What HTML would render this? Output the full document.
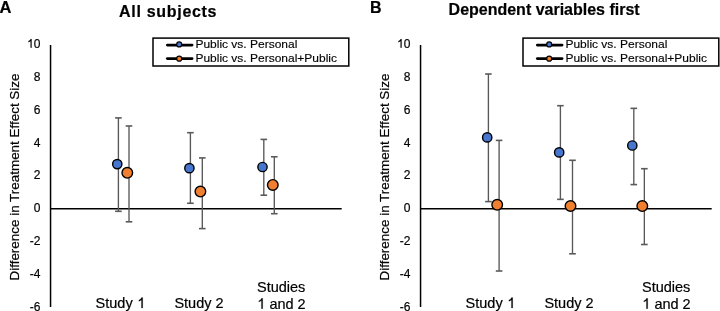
<!DOCTYPE html>
<html><head><meta charset="utf-8"><style>
html,body{margin:0;padding:0;background:#fff;width:720px;height:311px;overflow:hidden}
svg{display:block;will-change:transform}
text{font-family:"Liberation Sans",sans-serif;fill:#000;stroke:#000;stroke-width:0.2}
.b{font-weight:bold;font-size:16px}
.yt{font-size:12.5px}
.tk{font-size:12px}
.xl{font-size:14.5px;white-space:pre}
.one{fill:#000;stroke:#000;stroke-width:30}
.lt{font-size:12px;stroke-width:0.15}
.ax{stroke:#000;stroke-width:1.5}
.ax0{stroke:#000;stroke-width:1.4}
.eb{stroke:#585858;stroke-width:1.35}
.ec{stroke:#5a5a5a;stroke-width:1.6}
.mk{stroke:#000;stroke-width:1.4}
.lg{fill:none;stroke:#000;stroke-width:1.5}
.ll{stroke:#000;stroke-width:2.7;stroke-linecap:round}
.lm{stroke:#000;stroke-width:1.2}
</style></head><body>
<svg width="720" height="311" viewBox="0 0 720 311">
<text x="-0.4" y="12.9" class="b" style="font-size:16.5px">A</text>
<text x="119.0" y="16.5" class="b" textLength="97.5" lengthAdjust="spacing">All subjects</text>
<text transform="translate(19.1 177.0) rotate(-90)" text-anchor="middle" class="yt" textLength="207" lengthAdjust="spacingAndGlyphs">Difference in Treatment Effect Size</text>
<text x="40.5" y="47.7" text-anchor="end" class="tk">0</text>
<path transform="translate(27.15 47.70) scale(0.00586 -0.00586)" class="one" d="M763 0L583 0L583 1147Q450 1030 223 950L223 1124Q400 1210 530 1350Q590 1420 606 1466L763 1466Z"/>
<text x="40.5" y="80.6" text-anchor="end" class="tk">8</text>
<text x="40.5" y="113.6" text-anchor="end" class="tk">6</text>
<text x="40.5" y="146.5" text-anchor="end" class="tk">4</text>
<text x="40.5" y="179.4" text-anchor="end" class="tk">2</text>
<text x="40.5" y="212.4" text-anchor="end" class="tk">0</text>
<text x="40.5" y="245.3" text-anchor="end" class="tk">-2</text>
<text x="40.5" y="278.2" text-anchor="end" class="tk">-4</text>
<text x="40.5" y="311.1" text-anchor="end" class="tk">-6</text>
<line x1="50.55" y1="45.0" x2="50.55" y2="307" class="ax"/>
<line x1="50.55" y1="208.75" x2="341.7" y2="208.75" class="ax0"/>
<text x="370.0" y="12.7" class="b" style="font-size:16px">B</text>
<text x="448.6" y="14.9" class="b" textLength="191" lengthAdjust="spacing">Dependent variables first</text>
<text transform="translate(389.1 177.0) rotate(-90)" text-anchor="middle" class="yt" textLength="207" lengthAdjust="spacingAndGlyphs">Difference in Treatment Effect Size</text>
<text x="410.5" y="47.7" text-anchor="end" class="tk">0</text>
<path transform="translate(397.15 47.70) scale(0.00586 -0.00586)" class="one" d="M763 0L583 0L583 1147Q450 1030 223 950L223 1124Q400 1210 530 1350Q590 1420 606 1466L763 1466Z"/>
<text x="410.5" y="80.6" text-anchor="end" class="tk">8</text>
<text x="410.5" y="113.6" text-anchor="end" class="tk">6</text>
<text x="410.5" y="146.5" text-anchor="end" class="tk">4</text>
<text x="410.5" y="179.4" text-anchor="end" class="tk">2</text>
<text x="410.5" y="212.4" text-anchor="end" class="tk">0</text>
<text x="410.5" y="245.3" text-anchor="end" class="tk">-2</text>
<text x="410.5" y="278.2" text-anchor="end" class="tk">-4</text>
<text x="410.5" y="311.1" text-anchor="end" class="tk">-6</text>
<line x1="420.55" y1="45.0" x2="420.55" y2="307" class="ax"/>
<line x1="420.55" y1="208.75" x2="711.7" y2="208.75" class="ax0"/>
<text x="95.6" y="308.0" class="xl">Study </text>
<path transform="translate(137.31 308.00) scale(0.00708 -0.00708)" class="one" d="M763 0L583 0L583 1147Q450 1030 223 950L223 1124Q400 1210 530 1350Q590 1420 606 1466L763 1466Z"/>
<text x="174.4" y="308.0" class="xl">Study 2</text>
<text x="257.0" y="292.0" class="xl">Studies</text>
<path transform="translate(257.30 308.70) scale(0.00708 -0.00708)" class="one" d="M763 0L583 0L583 1147Q450 1030 223 950L223 1124Q400 1210 530 1350Q590 1420 606 1466L763 1466Z"/>
<text x="265.363359375" y="308.7" class="xl"> and 2</text>
<text x="465.6" y="308.0" class="xl">Study </text>
<path transform="translate(507.31 308.00) scale(0.00708 -0.00708)" class="one" d="M763 0L583 0L583 1147Q450 1030 223 950L223 1124Q400 1210 530 1350Q590 1420 606 1466L763 1466Z"/>
<text x="544.4" y="308.0" class="xl">Study 2</text>
<text x="642.0" y="292.0" class="xl">Studies</text>
<path transform="translate(642.30 308.70) scale(0.00708 -0.00708)" class="one" d="M763 0L583 0L583 1147Q450 1030 223 950L223 1124Q400 1210 530 1350Q590 1420 606 1466L763 1466Z"/>
<text x="650.363359375" y="308.7" class="xl"> and 2</text>
<line x1="118.4" y1="117.9" x2="118.4" y2="211.3" class="eb"/>
<line x1="115.10000000000001" y1="117.9" x2="121.7" y2="117.9" class="ec"/>
<line x1="115.10000000000001" y1="211.3" x2="121.7" y2="211.3" class="ec"/>
<line x1="129.0" y1="126.0" x2="129.0" y2="221.8" class="eb"/>
<line x1="125.7" y1="126.0" x2="132.3" y2="126.0" class="ec"/>
<line x1="125.7" y1="221.8" x2="132.3" y2="221.8" class="ec"/>
<line x1="190.4" y1="132.7" x2="190.4" y2="203.25" class="eb"/>
<line x1="187.1" y1="132.7" x2="193.70000000000002" y2="132.7" class="ec"/>
<line x1="187.1" y1="203.25" x2="193.70000000000002" y2="203.25" class="ec"/>
<line x1="202.3" y1="157.9" x2="202.3" y2="228.6" class="eb"/>
<line x1="199.0" y1="157.9" x2="205.60000000000002" y2="157.9" class="ec"/>
<line x1="199.0" y1="228.6" x2="205.60000000000002" y2="228.6" class="ec"/>
<line x1="263.8" y1="139.4" x2="263.8" y2="195.2" class="eb"/>
<line x1="260.5" y1="139.4" x2="267.1" y2="139.4" class="ec"/>
<line x1="260.5" y1="195.2" x2="267.1" y2="195.2" class="ec"/>
<line x1="274.3" y1="156.8" x2="274.3" y2="213.7" class="eb"/>
<line x1="271.0" y1="156.8" x2="277.6" y2="156.8" class="ec"/>
<line x1="271.0" y1="213.7" x2="277.6" y2="213.7" class="ec"/>
<circle cx="117.25" cy="164.1" r="4.65" fill="#4676CE" class="mk"/>
<circle cx="127.3" cy="172.8" r="5.3" fill="#F07F30" class="mk"/>
<circle cx="189.4" cy="168.15" r="4.65" fill="#4676CE" class="mk"/>
<circle cx="200.4" cy="191.55" r="5.3" fill="#F07F30" class="mk"/>
<circle cx="262.5" cy="167.0" r="4.65" fill="#4676CE" class="mk"/>
<circle cx="272.8" cy="184.9" r="5.3" fill="#F07F30" class="mk"/>
<line x1="488.4" y1="74.0" x2="488.4" y2="201.6" class="eb"/>
<line x1="485.09999999999997" y1="74.0" x2="491.7" y2="74.0" class="ec"/>
<line x1="485.09999999999997" y1="201.6" x2="491.7" y2="201.6" class="ec"/>
<line x1="499.1" y1="140.4" x2="499.1" y2="271.0" class="eb"/>
<line x1="495.8" y1="140.4" x2="502.40000000000003" y2="140.4" class="ec"/>
<line x1="495.8" y1="271.0" x2="502.40000000000003" y2="271.0" class="ec"/>
<line x1="560.4" y1="105.7" x2="560.4" y2="199.35" class="eb"/>
<line x1="557.1" y1="105.7" x2="563.6999999999999" y2="105.7" class="ec"/>
<line x1="557.1" y1="199.35" x2="563.6999999999999" y2="199.35" class="ec"/>
<line x1="572.5" y1="160.3" x2="572.5" y2="253.8" class="eb"/>
<line x1="569.2" y1="160.3" x2="575.8" y2="160.3" class="ec"/>
<line x1="569.2" y1="253.8" x2="575.8" y2="253.8" class="ec"/>
<line x1="633.8" y1="108.35" x2="633.8" y2="184.6" class="eb"/>
<line x1="630.5" y1="108.35" x2="637.0999999999999" y2="108.35" class="ec"/>
<line x1="630.5" y1="184.6" x2="637.0999999999999" y2="184.6" class="ec"/>
<line x1="644.35" y1="168.7" x2="644.35" y2="244.5" class="eb"/>
<line x1="641.0500000000001" y1="168.7" x2="647.65" y2="168.7" class="ec"/>
<line x1="641.0500000000001" y1="244.5" x2="647.65" y2="244.5" class="ec"/>
<circle cx="487.2" cy="137.4" r="4.65" fill="#4676CE" class="mk"/>
<circle cx="497.2" cy="204.8" r="5.3" fill="#F07F30" class="mk"/>
<circle cx="559.2" cy="152.4" r="4.65" fill="#4676CE" class="mk"/>
<circle cx="570.5" cy="206.0" r="5.3" fill="#F07F30" class="mk"/>
<circle cx="632.3" cy="145.5" r="4.65" fill="#4676CE" class="mk"/>
<circle cx="642.3" cy="206.1" r="5.3" fill="#F07F30" class="mk"/>
<rect x="153" y="38.1" width="195.8" height="27.9" class="lg"/>
<line x1="167.3" y1="45.1" x2="192.1" y2="45.1" class="ll"/>
<circle cx="179.2" cy="44.4" r="2.5" fill="#4676CE" class="lm"/>
<line x1="167.3" y1="58.6" x2="192.1" y2="58.6" class="ll"/>
<circle cx="179.2" cy="58.7" r="2.5" fill="#F07F30" class="lm"/>
<text transform="translate(195.4 47.5) scale(1 0.92)" class="lt">Public vs. Personal</text>
<text transform="translate(195.4 61.7) scale(1 0.92)" class="lt">Public vs. Personal+Public</text>
<rect x="523" y="38.1" width="195.8" height="27.9" class="lg"/>
<line x1="537.3" y1="45.1" x2="562.1" y2="45.1" class="ll"/>
<circle cx="549.2" cy="44.4" r="2.5" fill="#4676CE" class="lm"/>
<line x1="537.3" y1="58.6" x2="562.1" y2="58.6" class="ll"/>
<circle cx="549.2" cy="58.7" r="2.5" fill="#F07F30" class="lm"/>
<text transform="translate(565.4 47.5) scale(1 0.92)" class="lt">Public vs. Personal</text>
<text transform="translate(565.4 61.7) scale(1 0.92)" class="lt">Public vs. Personal+Public</text>
</svg>
</body></html>
